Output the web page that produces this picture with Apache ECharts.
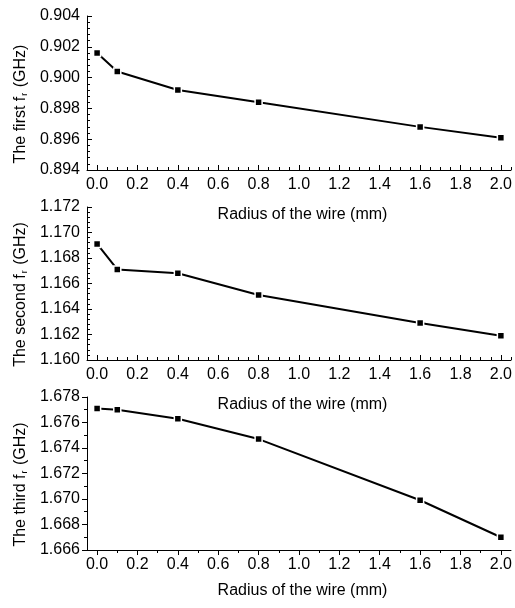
<!DOCTYPE html>
<html><head><meta charset="utf-8">
<script src="https://cdn.jsdelivr.net/npm/echarts@6/dist/echarts.min.js"></script>
<style>html,body{margin:0;padding:0;background:#fff}#c{width:515px;height:608px}</style>
</head><body><div id="c"></div>
<script>
const radius = [0, 0.1, 0.4, 0.8, 1.6, 2.0];
const firstFr = [0.9016, 0.9004, 0.8992, 0.8984, 0.8968, 0.8961];
const secondFr = [1.1691, 1.1671, 1.1668, 1.1651, 1.1629, 1.1619];
const thirdFr = [1.6771, 1.6770, 1.6763, 1.6747, 1.6699, 1.6670];
const xMajorTicks = [0, 0.2, 0.4, 0.6, 0.8, 1.0, 1.2, 1.4, 1.6, 1.8, 2.0];
const xMinorTicksFine = [-0.05, 0.05, 0.1, 0.15, 0.25, 0.3, 0.35, 0.45, 0.5, 0.55, 0.65, 0.7, 0.75, 0.85, 0.9, 0.95, 1.05, 1.1, 1.15, 1.25, 1.3, 1.35, 1.45, 1.5, 1.55, 1.65, 1.7, 1.75, 1.85, 1.9, 1.95, 2.05];
const xMinorTicksCoarse = [0.1, 0.3, 0.5, 0.7, 0.9, 1.1, 1.3, 1.5, 1.7, 1.9];
const yNames = ['The first', 'The second', 'The third'];
const xName = 'Radius of the wire (mm)';

const FONT = 'Arial, "Liberation Sans", sans-serif';
const panels = [
  {top: 16, h: 154, min: 0.894, max: 0.904, data: firstFr, inside: true, ySplit: 5, xMinor: xMinorTicksFine, nameGap: 37},
  {top: 207, h: 153, min: 1.160, max: 1.172, data: secondFr, inside: true, ySplit: 5, xMinor: xMinorTicksFine, nameGap: 37},
  {top: 397, h: 153, min: 1.666, max: 1.678, data: thirdFr, inside: false, ySplit: 2, xMinor: xMinorTicksCoarse, nameGap: 33}
];

const grid = [], xAxis = [], yAxis = [], series = [];
panels.forEach((p, i) => {
  grid.push({left: 87, right: 3, top: p.top, height: p.h});
  xAxis.push({
    type: 'value', gridIndex: i, position: 'bottom', min: -0.05, max: 2.05,
    name: xName, nameLocation: 'middle', nameGap: p.nameGap,
    nameTextStyle: {fontFamily: FONT, fontSize: 16, color: '#000', padding: [0, 0, 0, 7]},
    axisLine: {show: true, onZero: false, lineStyle: {color: '#000', width: 1}},
    axisTick: {show: true, inside: p.inside, length: 5, customValues: xMajorTicks, lineStyle: {color: '#000'}},
    axisLabel: {customValues: xMajorTicks, formatter: v => v.toFixed(1), fontFamily: FONT, fontSize: 16, color: '#000', margin: 7},
    splitLine: {show: false}
  });
  xAxis.push({
    type: 'value', gridIndex: i, position: 'bottom', min: -0.05, max: 2.05,
    axisLine: {show: false, onZero: false},
    axisTick: {show: true, inside: p.inside, length: 3, customValues: p.xMinor, lineStyle: {color: '#000'}},
    axisLabel: {show: false},
    splitLine: {show: false}
  });
  yAxis.push({
    type: 'value', gridIndex: i, position: 'left', min: p.min, max: p.max, interval: 0.002,
    name: '{a|' + yNames[i] + ' f}{s|r}{a| (GHz)}', nameLocation: 'middle', nameGap: 58, nameRotate: 90,
    nameTextStyle: {fontFamily: FONT, color: '#000', padding: [0, 22, 0, 0],
      rich: {a: {fontFamily: FONT, fontSize: 16, color: '#000', lineHeight: 16},
             s: {fontFamily: FONT, fontSize: 9, color: '#000', lineHeight: 9, verticalAlign: 'bottom', padding: [12, 1, 0, 1]}}},
    axisLine: {show: true, onZero: false, lineStyle: {color: '#000', width: 1}},
    axisTick: {show: true, inside: p.inside, length: 5, lineStyle: {color: '#000'}},
    minorTick: {show: true, splitNumber: p.ySplit, length: 3, lineStyle: {color: '#000'}},
    axisLabel: {formatter: v => v.toFixed(3), fontFamily: FONT, fontSize: 16, color: '#000', margin: 7},
    splitLine: {show: false}, minorSplitLine: {show: false}
  });
  series.push({
    type: 'line', xAxisIndex: 2 * i, yAxisIndex: i,
    data: radius.map((r, k) => [r, p.data[k]]),
    symbol: 'rect', symbolSize: 7,
    itemStyle: {color: '#000', borderColor: '#fff', borderWidth: 1.5},
    lineStyle: {color: '#000', width: 2},
    animation: false
  });
});

const chart = echarts.init(document.getElementById('c'), null, {renderer: 'canvas'});
chart.setOption({animation: false, backgroundColor: '#fff', grid, xAxis, yAxis, series});
</script></body></html>
